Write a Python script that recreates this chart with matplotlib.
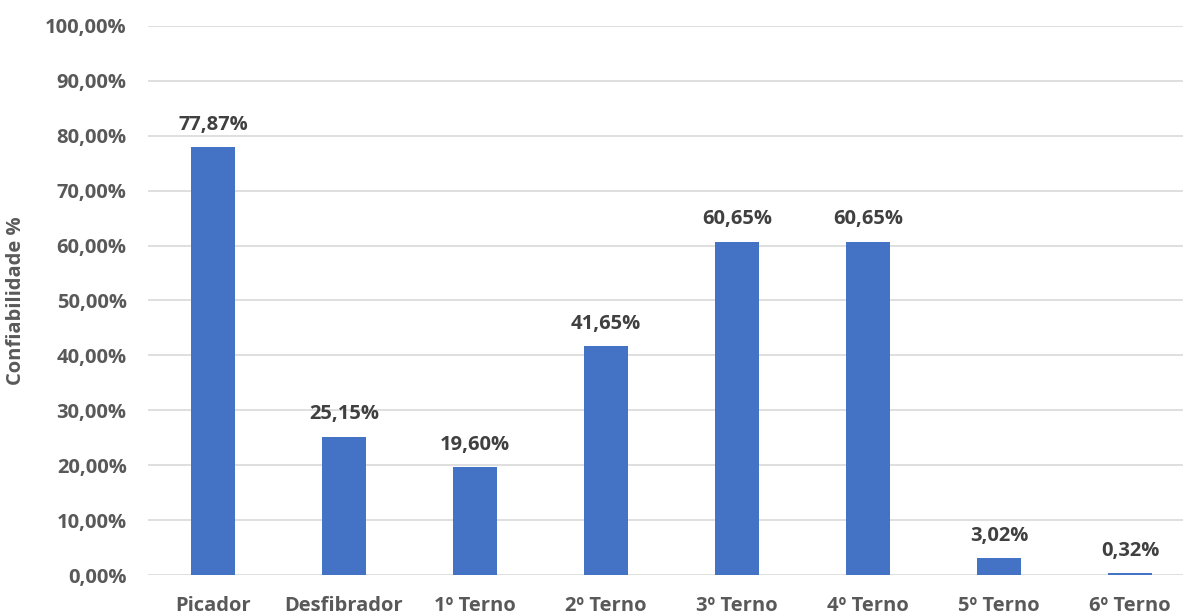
import matplotlib.pyplot as plt
from matplotlib.ticker import FuncFormatter, MultipleLocator

categorias = ["Picador", "Desfibrador", "1º Terno", "2º Terno",
              "3º Terno", "4º Terno", "5º Terno", "6º Terno"]
confiabilidade = [77.87, 25.15, 19.60, 41.65, 60.65, 60.65, 3.02, 0.32]

plt.rcParams['font.family'] = ['Open Sans', 'DejaVu Sans']

fig = plt.figure(figsize=(11.83, 6.15), dpi=100)
ax = fig.add_axes([0.1247, 0.065, 0.8753, 0.893])

x = range(len(categorias))
ax.bar(x, confiabilidade, width=0.34, color="#4472C4", zorder=3)

# rótulos de valor acima das barras
for xi, v in zip(x, confiabilidade):
    ax.text(xi, v + 2.3, f"{v:.2f}%".replace(".", ","), ha="center", va="bottom",
            fontsize=14.5, fontweight="bold", color="#404040")

ax.set_ylim(0, 100)
ax.set_xlim(-0.5, 7.405)
ax.yaxis.set_major_locator(MultipleLocator(10))
ax.yaxis.set_major_formatter(FuncFormatter(lambda v, p: f"{v:.2f}%".replace(".", ",")))
ax.grid(axis="y", color="#D9D9D9", linewidth=1.2, zorder=0)
for s in ax.spines.values():
    s.set_visible(False)

ax.set_xticks(list(x))
ax.set_xticklabels(categorias)
ax.tick_params(axis="both", length=0, labelsize=14.5, labelcolor="#595959")
ax.tick_params(axis="y", pad=15)
ax.tick_params(axis="x", pad=15)
for lbl in ax.get_xticklabels() + ax.get_yticklabels():
    lbl.set_fontweight("bold")

ax.set_ylabel("Confiabilidade %", fontsize=14.5, fontweight="bold", color="#595959", labelpad=14)

fig.savefig("out.png", dpi=100)
